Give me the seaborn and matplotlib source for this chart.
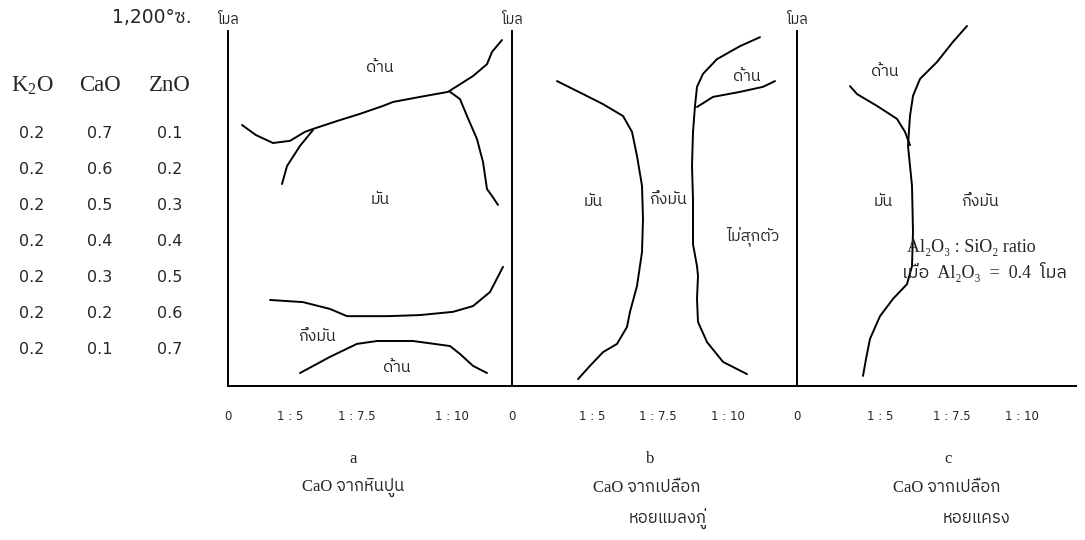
import matplotlib
matplotlib.use("Agg")
import numpy as np
import pandas as pd
import matplotlib.pyplot as plt
import seaborn as sns
from matplotlib import font_manager as fm
from matplotlib.ft2font import FT2Font

# ---------------- data ----------------
K2O = [0.2, 0.2, 0.2, 0.2, 0.2, 0.2, 0.2]
CaO = [0.7, 0.6, 0.5, 0.4, 0.3, 0.2, 0.1]
ZnO = [0.1, 0.2, 0.3, 0.4, 0.5, 0.6, 0.7]
oxide_headers = ["K$_2$O", "CaO", "ZnO"]

tick_labels = ["0", "1 : 5", "1 : 7.5", "1 : 10"]
ticks_a = [0, 62, 129, 224]
ticks_b = [0, 80, 146, 216]
ticks_c = [0, 83, 155, 225]

# panel a curves (x = position along ratio scale, y = CaO mole)
a1_x = [14, 28, 45, 62, 77, 85, 109, 132, 155, 165, 192, 220, 245, 259, 264, 274]
a1_y = [0.725, 0.697, 0.675, 0.681, 0.706, 0.714, 0.736, 0.756, 0.778, 0.789, 0.803, 0.817, 0.861, 0.894, 0.928, 0.961]
a2_x = [85, 72, 59, 54]
a2_y = [0.711, 0.667, 0.611, 0.561]
a3_x = [222, 232, 239, 249, 255, 259, 264, 270]
a3_y = [0.817, 0.797, 0.750, 0.686, 0.622, 0.547, 0.528, 0.503]
a4_x = [42, 75, 102, 119, 159, 192, 225, 245, 262, 275]
a4_y = [0.239, 0.233, 0.214, 0.194, 0.194, 0.197, 0.206, 0.222, 0.261, 0.331]
a5_x = [72, 102, 129, 149, 185, 222, 232, 245, 259]
a5_y = [0.036, 0.081, 0.117, 0.125, 0.125, 0.111, 0.089, 0.056, 0.036]

# panel b curves
b1_x = [45, 71, 91, 111, 120, 125, 130, 131, 130, 125, 118, 115, 105, 91, 78, 66]
b1_y = [0.847, 0.811, 0.783, 0.750, 0.706, 0.639, 0.556, 0.464, 0.372, 0.278, 0.206, 0.164, 0.117, 0.094, 0.056, 0.019]
b2_x = [248, 228, 205, 191, 185, 183, 181, 180, 181, 181, 185, 186, 185, 186, 195, 211, 235]
b2_y = [0.969, 0.944, 0.908, 0.867, 0.831, 0.778, 0.706, 0.611, 0.519, 0.394, 0.333, 0.306, 0.242, 0.178, 0.122, 0.067, 0.033]
b3_x = [185, 201, 228, 251, 263]
b3_y = [0.775, 0.803, 0.817, 0.831, 0.847]

# panel c curves
c1_x = [170, 156, 140, 123, 116, 113, 111, 115, 116, 115, 110, 96, 83, 73, 69, 66]
c1_y = [1.000, 0.956, 0.900, 0.853, 0.806, 0.750, 0.667, 0.556, 0.428, 0.333, 0.283, 0.242, 0.194, 0.131, 0.075, 0.028]
c2_x = [53, 60, 80, 100, 108, 113]
c2_y = [0.833, 0.811, 0.778, 0.742, 0.706, 0.669]

# region labels: (x, y, text)
labels_a = [(152, 0.886, "ด้าน"), (152, 0.519, "มัน"), (89, 0.139, "กึ่งมัน"), (169, 0.053, "ด้าน")]
labels_b = [(235, 0.861, "ด้าน"), (81, 0.514, "มัน"), (156, 0.519, "กึ่งมัน"), (241, 0.417, "ไม่สุกตัว")]
labels_c = [(88, 0.875, "ด้าน"), (86, 0.514, "มัน"), (183, 0.514, "กึ่งมัน")]

note_lines = ["Al₂O₃ : SiO₂ ratio", "เมื่อ  Al₂O₃  =  0.4  โมล"]

panel_letters = ["a", "b", "c"]
caption_line1 = ["CaO จากหินปูน", "CaO จากเปลือก", "CaO จากเปลือก"]
caption_line2 = ["", "หอยแมลงภู่", "หอยแครง"]

# ---------------- fonts ----------------
sns.set_theme(style="white")

def find_thai_font():
    found = []
    for f in fm.fontManager.ttflist:
        try:
            cmap = FT2Font(f.fname).get_charmap()
        except Exception:
            continue
        if 0x0E01 in cmap and 0x0E31 in cmap:
            found.append(f.name)
    pref = [n for n in found if "Thai" in n] + found
    return pref[0] if pref else None

thai = find_thai_font()
thai_list = [thai] if thai else []
sans_fams = ["DejaVu Sans"] + thai_list
serif_fams = ["Liberation Serif"] + thai_list + ["DejaVu Sans"]
thai_fams = thai_list + ["DejaVu Sans"]

plt.rcParams["font.family"] = sans_fams
plt.rcParams["mathtext.fontset"] = "custom"
plt.rcParams["mathtext.rm"] = "Liberation Serif"
plt.rcParams["mathtext.it"] = "Liberation Serif:italic"

W, H = 1085, 540
fig = plt.figure(figsize=(W / 100, H / 100), dpi=100)
fig.patch.set_facecolor("white")

def px_axes(left, top, right, bottom):
    return fig.add_axes([left / W, 1 - bottom / H, (right - left) / W, (bottom - top) / H])

Y0_PIX, Y1_PIX = 386, 26  # y=0 and y=1 pixel rows

# ---------------- table axes ----------------
tab = px_axes(0, Y1_PIX, 228, Y0_PIX)
tab.set_xlim(0, 228)
tab.set_ylim(0, 1)
tab.axis("off")
col_x = [32, 100, 170]
for cx, h in zip(col_x, oxide_headers):
    tab.text(cx, 0.835, h, ha="center", va="center", fontsize=16.5, family=serif_fams)
for k, c, z in zip(K2O, CaO, ZnO):
    for cx, v in zip(col_x, (k, c, z)):
        tab.text(cx, c, f"{v:.1f}", ha="center", va="center", fontsize=11.5, family=["DejaVu Sans"])
tab.text(152, 1.024, "1,200°ซ.", ha="center", va="center", fontsize=13.5,
         family=["DejaVu Sans"] + thai_list)

# ---------------- panels ----------------
panels = [
    (228, 512, ticks_a, [(a1_x, a1_y), (a2_x, a2_y), (a3_x, a3_y), (a4_x, a4_y), (a5_x, a5_y)], labels_a),
    (512, 797, ticks_b, [(b1_x, b1_y), (b2_x, b2_y), (b3_x, b3_y)], labels_b),
    (797, 1076, ticks_c, [(c1_x, c1_y), (c2_x, c2_y)], labels_c),
]
cap_x = [(125, 125, 0), (138, 135, 156), (151, 150, 180)]

for i, (l, r, ticks, curves, labs) in enumerate(panels):
    ax = px_axes(l, Y1_PIX, r, Y0_PIX)
    ax.set_facecolor("none")
    rows = []
    for cid, (xs, ys) in enumerate(curves):
        for x, y in zip(xs, ys):
            rows.append({"curve": cid, "x": x, "y": y})
    df = pd.DataFrame(rows)
    sns.lineplot(data=df, x="x", y="y", units="curve", estimator=None, sort=False,
                 color="black", linewidth=1.4, ax=ax, legend=False)
    for ln in ax.lines:
        ln.set_clip_on(False)
        ln.set_solid_joinstyle("round")
        ln.set_solid_capstyle("round")
    ax.set_xlim(0, r - l)
    ax.set_ylim(0, 1)
    for s in ("top", "right"):
        ax.spines[s].set_visible(False)
    for s in ("left", "bottom"):
        ax.spines[s].set_visible(True)
        ax.spines[s].set_color("black")
        ax.spines[s].set_linewidth(1.4)
    ax.spines["left"].set_bounds(0, 0.985)
    ax.set_yticks([])
    ax.set_xticks(ticks)
    ax.set_xticklabels(tick_labels, fontsize=8.5, family=["DejaVu Sans"])
    ax.tick_params(axis="x", length=0, pad=17)
    ax.set_xlabel("")
    ax.set_ylabel("")
    ax.text(0, 1.016, "โมล", ha="center", va="center", fontsize=10.5, family=thai_fams, clip_on=False)
    for x, y, t in labs:
        ax.text(x, y, t, ha="center", va="center", fontsize=11.5, family=thai_fams)
    lx, c1x, c2x = cap_x[i]
    ax.text(lx, -0.203, panel_letters[i], ha="center", va="center", fontsize=12, family=serif_fams, clip_on=False)
    ax.text(c1x, -0.283, caption_line1[i], ha="center", va="center", fontsize=12, family=serif_fams, clip_on=False)
    if caption_line2[i]:
        ax.text(c2x, -0.369, caption_line2[i], ha="center", va="center", fontsize=12, family=serif_fams, clip_on=False)
    if i == 2:
        ax.text(110, 0.386, note_lines[0], ha="left", va="center", fontsize=13, family=serif_fams)
        ax.text(105, 0.317, note_lines[1], ha="left", va="center", fontsize=13, family=serif_fams,
                clip_on=False)

fig.savefig("out.png", dpi=100, facecolor="white")
